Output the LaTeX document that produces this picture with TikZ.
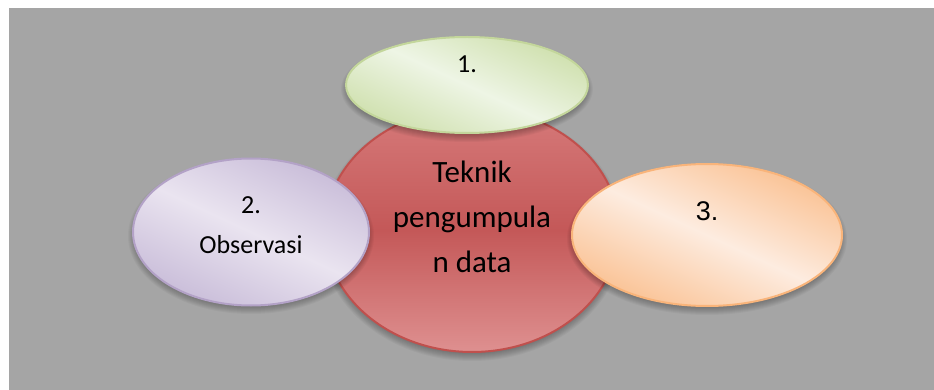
\documentclass[tikz,border=0pt]{standalone}
\usepackage{fontspec}
\setmainfont{Carlito}
\newfontfamily\arialfont{Liberation Sans}
\usetikzlibrary{shapes.geometric}

\definecolor{bggray}{RGB}{165,165,165}
\definecolor{redline}{RGB}{192,80,77}
\definecolor{redtop}{RGB}{214,122,122}
\definecolor{redmid}{RGB}{196,88,88}
\definecolor{redbot}{RGB}{222,144,144}
\definecolor{greenline}{RGB}{195,214,155}
\definecolor{greenedge}{RGB}{207,224,174}
\definecolor{greenlight}{RGB}{238,245,229}
\definecolor{purpleline}{RGB}{179,162,199}
\definecolor{purpleedge}{RGB}{201,189,217}
\definecolor{purplelight}{RGB}{234,228,240}
\definecolor{orangeline}{RGB}{249,180,122}
\definecolor{orangeedge}{RGB}{250,194,148}
\definecolor{orangelight}{RGB}{253,236,224}

% soft shadow: centre x, centre y, half width, half height
\newcommand\softshadow[4]{%
  \foreach \k in {0,...,8}{%
    \fill[black,opacity=0.035] (#1,#2+4) ellipse ({#3+\k-3} and {#4+\k-3});
  }%
}

\tikzset{
  blob/.style={ellipse, draw, line width=2pt, inner sep=0pt},
  sheen/.style 2 args={left color=#1, right color=#1, middle color=#2, shading angle=-25},
  smalltext/.style={font=\fontsize{26}{30}\selectfont, text=black, inner sep=0pt},
  bigtext/.style={font=\fontsize{31}{45}\selectfont, align=center, text=black, inner sep=0pt}
}

\begin{document}
\begin{tikzpicture}[x=1pt,y=-1pt]
  \useasboundingbox (0,0) rectangle (934,390);
  \fill[bggray] (9,8) rectangle (934,390);

  % central circle
  \softshadow{472}{230}{147}{122}
  \node[blob, draw=redline, minimum width=294pt, minimum height=244pt,
        top color=redtop, bottom color=redbot, middle color=redmid] (core) at (472,230) {};

  % surrounding ellipses
  \softshadow{467}{85}{121}{48}
  \node[blob, draw=greenline, minimum width=242pt, minimum height=96pt,
        sheen={greenedge}{greenlight}] (one) at (467,85) {};

  \softshadow{251}{232}{118}{73}
  \node[blob, draw=purpleline, minimum width=236pt, minimum height=147pt,
        sheen={purpleedge}{purplelight}] (two) at (251,232) {};

  \softshadow{707}{235}{135}{71}
  \node[blob, draw=orangeline, minimum width=270pt, minimum height=142pt,
        sheen={orangeedge}{orangelight}] (three) at (707,235) {};

  % labels
  \node[bigtext] (coretext) at (472,217) {Teknik\\pengumpula\\n data};
  \node[smalltext, anchor=base] (onetext) at (467,73) {1.};
  \node[smalltext, anchor=base] (twonum) at (251,214) {2.};
  \node[smalltext, anchor=base] (twotext) at (251,253) {Observasi};
  \node[smalltext, anchor=base, font=\arialfont\fontsize{27}{30}\selectfont] (threetext) at (707,221) {3.};
\end{tikzpicture}
\end{document}
